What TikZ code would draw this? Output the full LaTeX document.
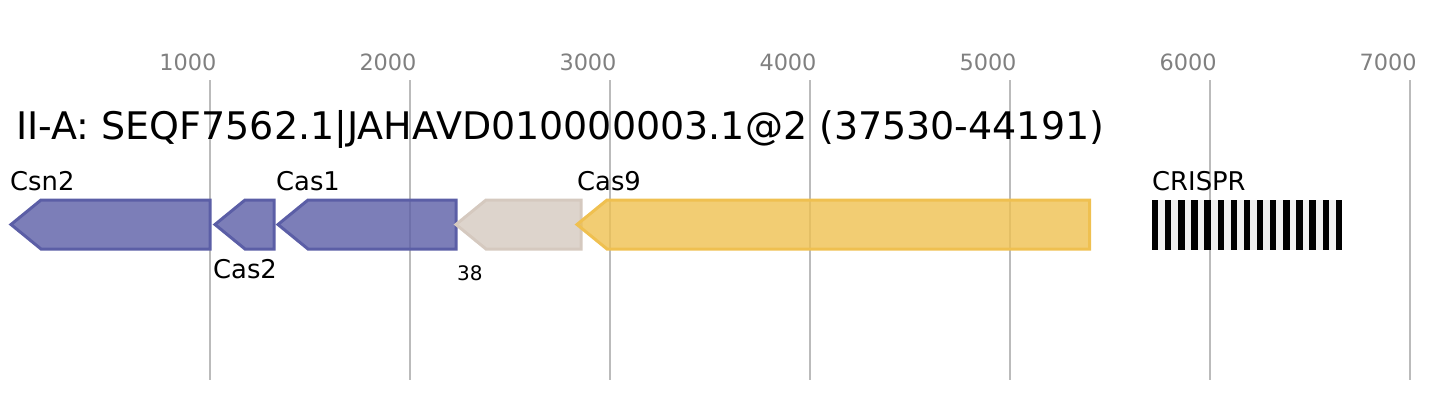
\documentclass[tikz,border=0pt]{standalone}
\usepackage{fontspec}
\setmainfont{DejaVu Sans}
\definecolor{cpurple}{HTML}{5B5EA6}
\definecolor{cgold}{HTML}{EFC050}
\definecolor{cgray}{HTML}{D5C9BF}
\definecolor{gridc}{HTML}{BBBBBB}
\definecolor{tickc}{HTML}{808080}
\definecolor{spacerc}{HTML}{F0F0F0}
\newcommand{\gArrow}[3]{\draw[gene,#3] (#2,200) -- ({#1+30},200) -- (#1,224.5) -- ({#1+30},249) -- (#2,249) -- cycle;}
\begin{document}
\begin{tikzpicture}[x=1pt,y=-1pt,
  gridline/.style={draw=gridc, line width=2pt},
  ticklabel/.style={text=tickc, font=\fontsize{22.4}{26}\selectfont, inner sep=0, anchor=base},
  genelabel/.style={font=\fontsize{25.8}{30}\selectfont, inner sep=0, anchor=base west},
  gene/.style={line width=3pt, fill opacity=0.8, line join=miter},
  rpt/.style={fill=black, draw=none},
  spc/.style={fill=spacerc, draw=none}]
\useasboundingbox (0,0) rectangle (1432,400);
% grid
\foreach \i in {1,...,7} {
  \draw[gridline] ({10+200*\i},80) -- ({10+200*\i},380);
  \node[ticklabel] (tick\i) at ({10+200*\i-22},70) {\i000};
}
% title
\node[anchor=base west, inner sep=0, font=\fontsize{38}{42}\selectfont] (title) at (16,139) {II-A: SEQF7562.1|JAHAVD010000003.1@2 (37530-44191)};
% genes
\gArrow{11}{210}{draw=cpurple, fill=cpurple}
\gArrow{215}{274}{draw=cpurple, fill=cpurple}
\gArrow{278}{456}{draw=cpurple, fill=cpurple}
\gArrow{456}{581}{draw=cgray, fill=cgray}
\gArrow{577}{1089.5}{draw=cgold, fill=cgold}
% labels
\node[genelabel] (lcsn2) at (10,190) {Csn2};
\node[genelabel] (lcas2) at (213,278) {Cas2};
\node[genelabel] (lcas1) at (276,190) {Cas1};
\node[anchor=base west, inner sep=0, font=\fontsize{20}{24}\selectfont] (l38) at (457,280) {38};
\node[genelabel] (lcas9) at (577,190) {Cas9};
\node[genelabel] (lcrispr) at (1152,190) {CRISPR};
% CRISPR array
\fill[spc] (1152,200) rectangle (1342,250);
\foreach \k in {0,...,14} {
  \fill[rpt] ({1152+13.12*\k},200) rectangle ({1152+13.12*\k+6.3},250);
}
\end{tikzpicture}
\end{document}
